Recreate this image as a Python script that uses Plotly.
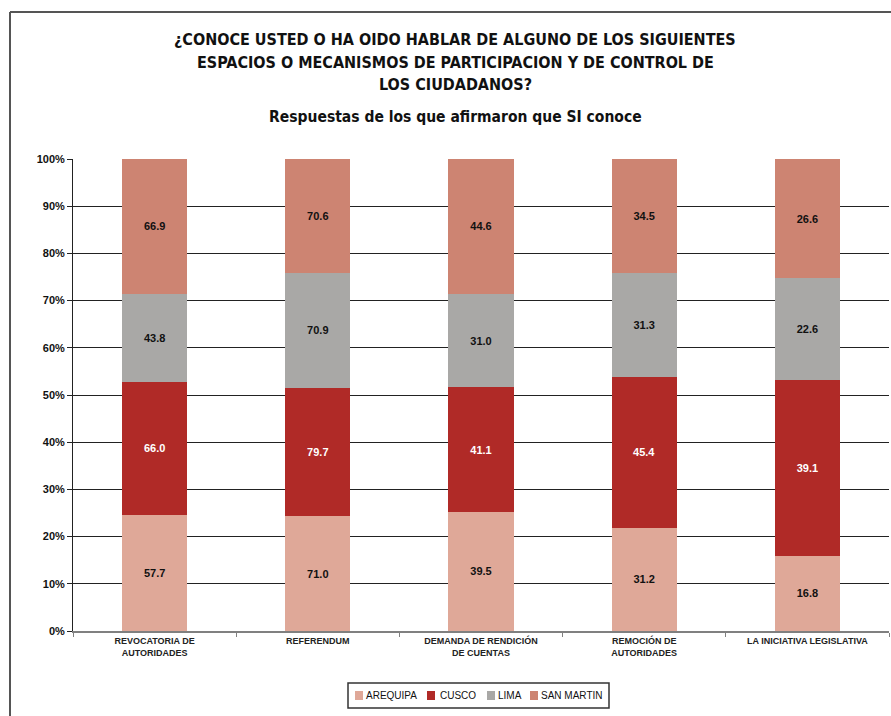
import plotly.graph_objects as go

categories = ["REVOCATORIA DE<br>AUTORIDADES", "REFERENDUM", "DEMANDA DE RENDICIÓN<br>DE CUENTAS",
              "REMOCIÓN DE<br>AUTORIDADES", "LA INICIATIVA LEGISLATIVA"]
arequipa = [57.7, 71.0, 39.5, 31.2, 16.8]
cusco = [66.0, 79.7, 41.1, 45.4, 39.1]
lima = [43.8, 70.9, 31.0, 31.3, 22.6]
san_martin = [66.9, 70.6, 44.6, 34.5, 26.6]
series_names = ["AREQUIPA", "CUSCO", "LIMA", "SAN MARTIN"]
colors = ["#DFA898", "#B02A27", "#A9A8A6", "#CD8472"]
text_colors = ["#111111", "#FFFFFF", "#111111", "#111111"]
title_lines = ["¿CONOCE USTED O HA OIDO HABLAR DE ALGUNO DE LOS SIGUIENTES",
               "ESPACIOS O MECANISMOS DE PARTICIPACION Y DE CONTROL DE",
               "LOS CIUDADANOS?"]
subtitle = "Respuestas de los que afirmaron que SI conoce"

W, H = 891, 716
L, R, T, B = 73, 2, 159, 85
PW, PH = W - L - R, H - T - B


def px(x):
    return (x - L) / PW


def py(y):
    return (H - B - y) / PH


fig = go.Figure()
for name, vals, col, tcol in zip(series_names, [arequipa, cusco, lima, san_martin], colors, text_colors):
    fig.add_trace(go.Bar(
        name=name, x=categories, y=vals, marker=dict(color=col, line=dict(width=0)),
        text=[f"{v:.1f}" for v in vals], textposition="inside", insidetextanchor="middle",
        textangle=0, constraintext="none", showlegend=False,
        textfont=dict(family="Liberation Sans, Arial, sans-serif", size=11, color=tcol, weight="bold"),
    ))

narrow = "Liberation Sans Narrow, Arial Narrow, DejaVu Sans Condensed, sans-serif"
fig.update_layout(
    width=W, height=H,
    barmode="stack", barnorm="percent", bargap=0.6,
    plot_bgcolor="white", paper_bgcolor="white",
    margin=dict(l=L, r=R, t=T, b=B),
    font=dict(family="Liberation Sans, Arial, sans-serif", color="#111"),
)
fig.update_yaxes(range=[0, 100], dtick=10, ticksuffix="%", showgrid=True, gridcolor="#222", gridwidth=1,
                 showline=True, linecolor="#222", linewidth=1, ticks="outside", ticklen=5, tickcolor="#222",
                 tickfont=dict(size=11, weight="bold", color="#111"), zeroline=False)
fig.update_xaxes(showline=True, linecolor="#808080", linewidth=2, ticks="outside", tickson="boundaries",
                 ticklen=4, tickcolor="#808080",
                 tickfont=dict(size=9, weight="bold", color="#222"), tickangle=0)

# title annotations (one per line to control spacing)
for i, line in enumerate(title_lines):
    fig.add_annotation(text=line, xref="paper", yref="paper", x=px(455), y=py(40 + 22 * i),
                       xanchor="center", yanchor="middle", showarrow=False,
                       font=dict(family=narrow, size=16, color="#111", weight="bold"))
fig.add_annotation(text=subtitle,
                   xref="paper", yref="paper", x=px(455), y=py(117), xanchor="center", yanchor="middle",
                   showarrow=False,
                   font=dict(family=narrow, size=15.5, color="#111", weight="bold"))

# outer frame lines
fig.add_shape(type="line", xref="paper", yref="paper", x0=px(10), x1=px(10),
              y0=py(12), y1=py(720), line=dict(color="#555", width=2))
fig.add_shape(type="line", xref="paper", yref="paper", x0=px(10), x1=px(895),
              y0=py(12), y1=py(12), line=dict(color="#555", width=2))

# legend (drawn manually to match compact layout)
fig.add_shape(type="rect", xref="paper", yref="paper", x0=px(348), x1=px(609), y0=py(683), y1=py(708),
              line=dict(color="#333", width=1.5), fillcolor="white")
sq_x = [355, 427, 487, 530]
tx_x = [365, 439, 497, 540]
for name, col, sx, tx in zip(series_names, colors, sq_x, tx_x):
    fig.add_shape(type="rect", xref="paper", yref="paper", x0=px(sx), x1=px(sx + 8),
                  y0=py(691), y1=py(700), line=dict(width=0), fillcolor=col)
    fig.add_annotation(text=name, xref="paper", yref="paper", x=px(tx - 1), y=py(695.5),
                       xanchor="left", yanchor="middle", showarrow=False,
                       font=dict(family="Liberation Sans, Arial, sans-serif", size=10, color="#111"))

fig.write_html("out.html", config={"displayModeBar": False},
               post_script="document.body.style.margin='0';document.body.style.overflow='hidden';")
